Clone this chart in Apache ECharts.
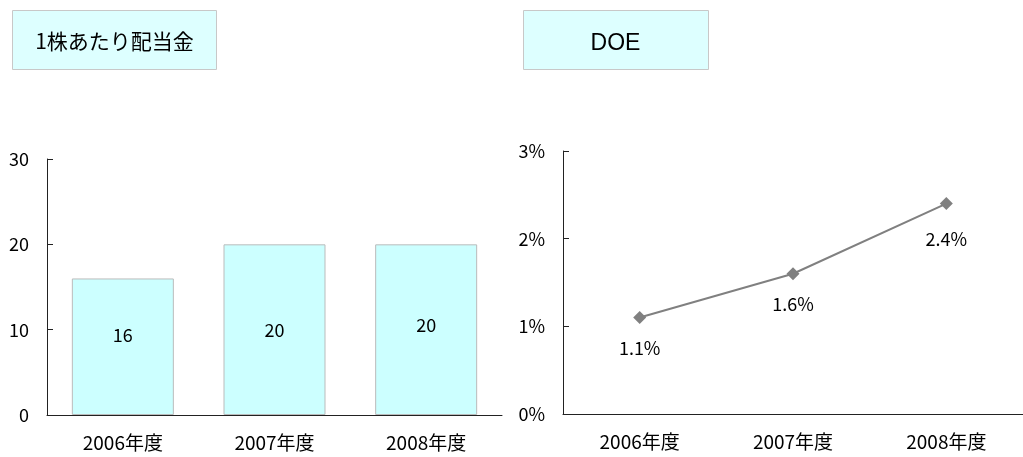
<!DOCTYPE html>
<html>
<head>
<meta charset="utf-8">
<script src="https://cdn.jsdelivr.net/npm/echarts@6/dist/echarts.min.js"></script>
<style>
	html, body { margin: 0; padding: 0; background: #FFF; }
	#echart { width: 1023px; height: 457px; }
</style>
</head>
<body>
<div id="echart"></div>
<script>
	// data
	var years = ['2006年度', '2007年度', '2008年度'];
	var dividend = [16, 20, 20];      // 1株あたり配当金
	var doe = [1.1, 1.6, 2.4];        // DOE (%)
	var dividendTicks = [0, 10, 20, 30];
	var doeTicks = [0, 1, 2, 3];

	var jp = '"Noto Sans CJK JP", sans-serif';
	// label nudges, as in the original picture
	var barLabelShift = [[0, -12], [0, 0], [0, -5]];
	var doeLabelShift = [[0, 0], [0, 0], [0, 5]];

	var myChart = echarts.init(document.getElementById('echart'));
	myChart.setOption({
		animation: false,
		grid: [
			{ left: 47, top: 159, width: 455, height: 256 },
			{ left: 563, top: 151, width: 464, height: 263 }
		],
		xAxis: [0, 1].map(function (i) {
			return {
				type: 'category',
				gridIndex: i,
				data: years,
				axisLine: { lineStyle: { color: '#222', width: 1 } },
				axisTick: { inside: true, length: 6, lineStyle: { color: '#222' } },
				axisLabel: { color: '#000', fontFamily: jp, fontSize: 19, margin: 18 }
			};
		}),
		yAxis: [
			{
				type: 'value',
				gridIndex: 0,
				min: dividendTicks[0],
				max: dividendTicks[dividendTicks.length - 1],
				interval: 10,
				splitLine: { show: false },
				axisLine: { show: true, lineStyle: { color: '#222' } },
				axisTick: { show: true, inside: true, length: 6, lineStyle: { color: '#222' } },
				axisLabel: { color: '#000', fontFamily: jp, fontSize: 18, margin: 18 }
			},
			{
				type: 'value',
				gridIndex: 1,
				min: doeTicks[0],
				max: doeTicks[doeTicks.length - 1],
				interval: 1,
				splitLine: { show: false },
				axisLine: { show: true, lineStyle: { color: '#222' } },
				axisTick: { show: true, inside: true, length: 6, lineStyle: { color: '#222' } },
				axisLabel: { color: '#000', fontFamily: jp, fontSize: 18, margin: 18, formatter: '{value}%' }
			}
		],
		series: [
			{
				type: 'bar',
				xAxisIndex: 0,
				yAxisIndex: 0,
				barWidth: 102,
				data: dividend.map(function (v, i) {
					return { value: v, label: { offset: barLabelShift[i] } };
				}),
				itemStyle: { color: '#CCFFFF', borderColor: '#BBBBBB', borderWidth: 1 },
				label: {
					show: true,
					position: 'inside',
					color: '#000',
					fontFamily: jp,
					fontSize: 18
				}
			},
			{
				type: 'line',
				xAxisIndex: 1,
				yAxisIndex: 1,
				data: doe.map(function (v, i) {
					return { value: v, label: { offset: doeLabelShift[i] } };
				}),
				symbol: 'diamond',
				symbolSize: 13,
				itemStyle: { color: '#808080' },
				lineStyle: { color: '#808080', width: 2 },
				label: {
					show: true,
					position: 'bottom',
					distance: 15,
					color: '#000',
					fontFamily: jp,
					fontSize: 18,
					formatter: '{c}%'
				}
			}
		],
		graphic: [
			{
				type: 'group',
				left: 12,
				top: 10,
				children: [
					{ type: 'rect', shape: { x: 0, y: 0, width: 204, height: 59 },
					  style: { fill: '#DDFFFF', stroke: '#C8C8C8', lineWidth: 1 } },
					{ type: 'text', x: 102, y: 31,
					  style: { text: '1株あたり配当金', fill: '#000', font: '21px ' + jp, align: 'center', verticalAlign: 'middle' } }
				]
			},
			{
				type: 'group',
				left: 523,
				top: 10,
				children: [
					{ type: 'rect', shape: { x: 0, y: 0, width: 185, height: 59 },
					  style: { fill: '#DDFFFF', stroke: '#C8C8C8', lineWidth: 1 } },
					{ type: 'text', x: 92, y: 33,
					  style: { text: 'DOE', fill: '#000', font: '23px "Liberation Sans", Arial, sans-serif', align: 'center', verticalAlign: 'middle' } }
				]
			}
		]
	});
</script>
</body>
</html>
